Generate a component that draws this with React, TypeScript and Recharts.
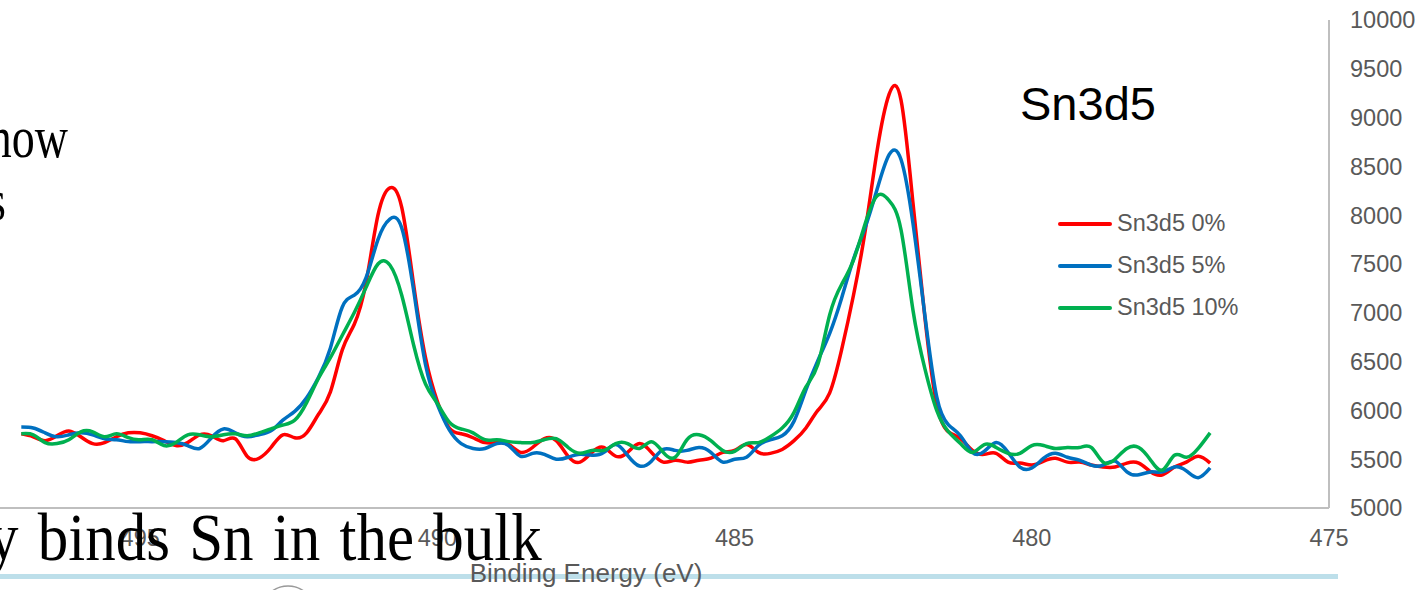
import { LineChart, Line, XAxis, YAxis, Legend } from "recharts";

// binding energy grid (eV), 497.0 down to 477.0
const energies = [
  497.0, 496.8, 496.6, 496.4, 496.2, 496.0, 495.8, 495.6, 495.4, 495.2,
  495.0, 494.8, 494.6, 494.4, 494.2, 494.0, 493.8, 493.6, 493.4, 493.2,
  493.0, 492.8, 492.6, 492.4, 492.2, 492.0, 491.8, 491.6, 491.4, 491.2,
  491.0, 490.8, 490.6, 490.4, 490.2, 490.0, 489.8, 489.6, 489.4, 489.2,
  489.0, 488.8, 488.6, 488.4, 488.2, 488.0, 487.8, 487.6, 487.4, 487.2,
  487.0, 486.8, 486.6, 486.4, 486.2, 486.0, 485.8, 485.6, 485.4, 485.2,
  485.0, 484.8, 484.6, 484.4, 484.2, 484.0, 483.8, 483.6, 483.4, 483.2,
  483.0, 482.8, 482.6, 482.4, 482.2, 482.0, 481.8, 481.6, 481.4, 481.2,
  481.0, 480.8, 480.6, 480.4, 480.2, 480.0, 479.8, 479.6, 479.4, 479.2,
  479.0, 478.8, 478.6, 478.4, 478.2, 478.0, 477.8, 477.6, 477.4, 477.2,
  477.0,
];

const sn0 = [
  5760, 5730, 5690, 5740, 5790, 5730, 5660, 5670, 5730, 5770,
  5770, 5740, 5690, 5640, 5670, 5750, 5740, 5690, 5710, 5530,
  5510, 5620, 5750, 5720, 5770, 5960, 6190, 6620, 6880, 7310,
  8000, 8280, 8080, 7290, 6540, 6090, 5820, 5760, 5720, 5670,
  5670, 5650, 5570, 5620, 5710, 5690, 5530, 5470, 5570, 5620,
  5530, 5570, 5660, 5570, 5470, 5490, 5470, 5490, 5510, 5570,
  5590, 5650, 5570, 5560, 5600, 5690, 5820, 6000, 6180, 6620,
  7180, 7850, 8670, 9240, 9180, 8130, 6960, 6060, 5780, 5710,
  5590, 5550, 5560, 5470, 5460, 5440, 5480, 5510, 5470, 5470,
  5440, 5420, 5420, 5460, 5460, 5370, 5340, 5420, 5470, 5530,
  5460,
];

const sn5 = [
  5830, 5820, 5770, 5730, 5750, 5770, 5750, 5710, 5700, 5680,
  5680, 5680, 5680, 5670, 5640, 5610, 5720, 5810, 5770, 5730,
  5750, 5790, 5900, 5990, 6130, 6340, 6640, 7060, 7180, 7360,
  7750, 7960, 7870, 7230, 6470, 6060, 5800, 5660, 5610, 5610,
  5660, 5640, 5530, 5560, 5550, 5500, 5520, 5550, 5540, 5570,
  5650, 5540, 5430, 5480, 5600, 5590, 5590, 5620, 5570, 5470,
  5500, 5520, 5640, 5700, 5740, 5890, 6210, 6510, 6790, 7150,
  7550, 7880, 8270, 8620, 8570, 7920, 6980, 6140, 5850, 5740,
  5570, 5580, 5670, 5570, 5420, 5410, 5510, 5560, 5520, 5490,
  5440, 5440, 5480, 5370, 5340, 5370, 5370, 5420, 5380, 5310,
  5410,
];

const sn10 = [
  5760, 5750, 5670, 5660, 5700, 5780, 5780, 5730, 5760, 5720,
  5700, 5700, 5640, 5670, 5750, 5750, 5730, 5750, 5760, 5740,
  5770, 5810, 5850, 5900, 6080, 6330, 6540, 6770, 7000, 7260,
  7500, 7490, 7180, 6670, 6270, 6070, 5880, 5810, 5770, 5700,
  5700, 5680, 5670, 5670, 5700, 5710, 5620, 5560, 5590, 5590,
  5660, 5660, 5610, 5680, 5570, 5520, 5700, 5750, 5690, 5590,
  5580, 5660, 5670, 5730, 5820, 5980, 6240, 6470, 6980, 7290,
  7540, 7920, 8200, 8150, 7850, 7030, 6430, 6000, 5780, 5660,
  5570, 5650, 5620, 5560, 5560, 5640, 5640, 5610, 5620, 5620,
  5620, 5470, 5500, 5610, 5620, 5490, 5390, 5540, 5520, 5610,
  5770,
];

const xTicks = [500, 495, 490, 485, 480, 475];
const yTicks = [5000, 5500, 6000, 6500, 7000, 7500, 8000, 8500, 9000, 9500, 10000];

const series = [
  { key: "sn0", name: "Sn3d5 0%", color: "#FF0000" },
  { key: "sn5", name: "Sn3d5 5%", color: "#0070C0" },
  { key: "sn10", name: "Sn3d5 10%", color: "#00B050" },
];

const data = energies.map((e, i) => ({
  energy: e,
  sn0: sn0[i],
  sn5: sn5[i],
  sn10: sn10[i],
}));

const SHIFT = 200; // plot area starts left of the visible page
const W = 1421;
const H = 590;
const sans = "Arial, 'Liberation Sans', sans-serif";
const serif = "'Times New Roman', 'Liberation Serif', serif";
const grey = "#595959";

const LegendBox = () => (
  <div style={{ fontFamily: sans }}>
    {series.map((s) => (
      <div key={s.key} style={{ display: "flex", alignItems: "center", height: 42 }}>
        <div style={{ width: 54, height: 4, background: s.color, borderRadius: 2, marginRight: 5 }} />
        <span style={{ fontSize: 23.5, color: grey, lineHeight: 1, whiteSpace: "nowrap" }}>{s.name}</span>
      </div>
    ))}
  </div>
);

export default function App() {
  return (
    <div style={{ position: "absolute", left: 0, top: 0, width: W, height: H, overflow: "hidden", background: "#fff" }}>
      {/* slide decorations behind the chart */}
      <svg width={W} height={H} style={{ position: "absolute", left: 0, top: 0 }}>
        <rect x={0} y={574} width={1338} height={5} fill="#BDDFEA" />
        <circle cx={288} cy={613} r={27} fill="none" stroke="#9a9a9a" strokeWidth={1.5} />
      </svg>

      <div style={{ position: "absolute", left: -SHIFT, top: 0 }}>
        <LineChart
          width={W + SHIFT}
          height={H}
          data={data}
          margin={{ top: 20, right: 0, bottom: 0, left: SHIFT - 157 }}
        >
          <XAxis
            dataKey="energy"
            type="number"
            domain={[475, 500]}
            reversed
            ticks={xTicks}
            interval={0}
            height={82}
            axisLine={{ stroke: "#BFBFBF", strokeWidth: 2 }}
            tickLine={false}
            tickSize={0}
            tickMargin={21}
            tick={{ fill: grey, fontSize: 23.5, fontFamily: sans }}
            label={{
              value: "Binding Energy (eV)",
              position: "insideBottom",
              offset: 8,
              fill: grey,
              fontSize: 26,
              fontFamily: sans,
            }}
          />
          <YAxis
            orientation="right"
            type="number"
            domain={[5000, 10000]}
            ticks={yTicks}
            interval={0}
            width={92}
            axisLine={{ stroke: "#BFBFBF", strokeWidth: 2 }}
            tickLine={false}
            tickSize={0}
            tickMargin={21}
            tick={{ fill: grey, fontSize: 23.5, fontFamily: sans }}
          />
          <Legend
            layout="vertical"
            align="center"
            verticalAlign="middle"
            wrapperStyle={{ left: SHIFT + 1058, top: 203, width: 240, height: 130 }}
            content={() => <LegendBox />}
          />
          {series.map((s) => (
            <Line
              key={s.key}
              dataKey={s.key}
              name={s.name}
              type="natural"
              stroke={s.color}
              strokeWidth={3.5}
              dot={false}
              isAnimationActive={false}
            />
          ))}
        </LineChart>
      </div>

      {/* chart title and slide text lying over the chart */}
      <svg width={W} height={H} style={{ position: "absolute", left: 0, top: 0, pointerEvents: "none" }}>
        <text x={1020} y={120} fontSize={47} fontFamily={sans} fill="#000">
          Sn3d5
        </text>
        <text transform="translate(68,157) scale(1,1.3)" textAnchor="end" fontSize={46} fontFamily={serif} fill="#000">
          now
        </text>
        <text transform="translate(6,220) scale(1,1.3)" textAnchor="end" fontSize={46} fontFamily={serif} fill="#000">
          s
        </text>
        <text transform="translate(-12,560) scale(1,1.1)" fontSize={61} wordSpacing={4} fontFamily={serif} fill="#000">
          y binds Sn in the bulk
        </text>
      </svg>
    </div>
  );
}
